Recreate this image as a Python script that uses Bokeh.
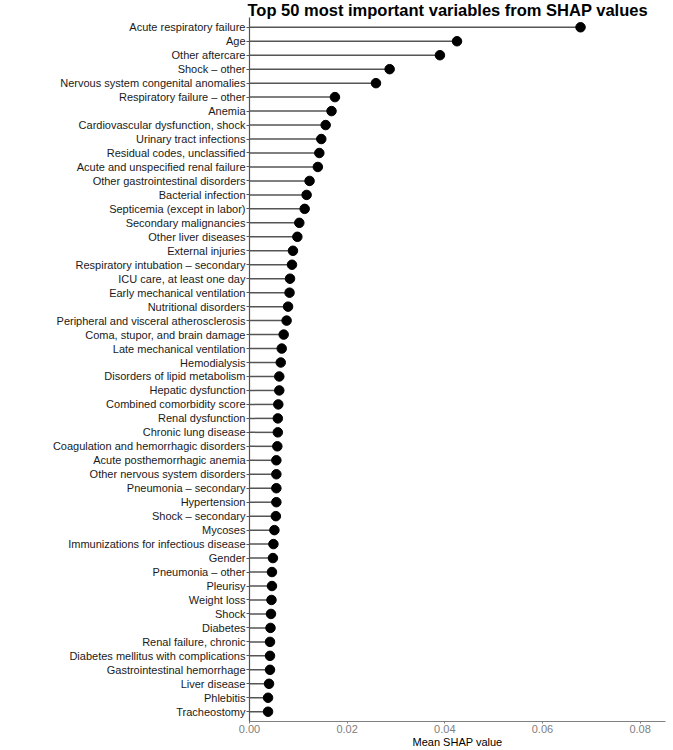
from bokeh.plotting import figure
from bokeh.models import Range1d, FactorRange, FixedTicker, NumeralTickFormatter, ColumnDataSource
from bokeh.embed import file_html
from bokeh.resources import INLINE

variables = [
    "Acute respiratory failure", "Age", "Other aftercare", "Shock \u2013 other",
    "Nervous system congenital anomalies", "Respiratory failure \u2013 other", "Anemia",
    "Cardiovascular dysfunction, shock", "Urinary tract infections",
    "Residual codes, unclassified", "Acute and unspecified renal failure",
    "Other gastrointestinal disorders", "Bacterial infection", "Septicemia (except in labor)",
    "Secondary malignancies", "Other liver diseases", "External injuries",
    "Respiratory intubation \u2013 secondary", "ICU care, at least one day",
    "Early mechanical ventilation", "Nutritional disorders",
    "Peripheral and visceral atherosclerosis", "Coma, stupor, and brain damage",
    "Late mechanical ventilation", "Hemodialysis", "Disorders of lipid metabolism",
    "Hepatic dysfunction", "Combined comorbidity score", "Renal dysfunction",
    "Chronic lung disease", "Coagulation and hemorrhagic disorders",
    "Acute posthemorrhagic anemia", "Other nervous system disorders",
    "Pneumonia \u2013 secondary", "Hypertension", "Shock \u2013 secondary", "Mycoses",
    "Immunizations for infectious disease", "Gender", "Pneumonia \u2013 other", "Pleurisy",
    "Weight loss", "Shock", "Diabetes", "Renal failure, chronic",
    "Diabetes mellitus with complications", "Gastrointestinal hemorrhage",
    "Liver disease", "Phlebitis", "Tracheostomy",
]

shap_values = [
    0.0678, 0.0425, 0.0390, 0.0287, 0.0259, 0.0175, 0.0168, 0.0156, 0.0147, 0.0143,
    0.0140, 0.0123, 0.0117, 0.0113, 0.0102, 0.0098, 0.0089, 0.0087, 0.0083, 0.0082,
    0.0079, 0.0076, 0.0070, 0.0066, 0.0064, 0.0061, 0.0061, 0.0059, 0.0058, 0.0058,
    0.0057, 0.0055, 0.0055, 0.0055, 0.0055, 0.0054, 0.0051, 0.0049, 0.0048, 0.0046,
    0.0046, 0.0045, 0.0044, 0.0043, 0.0042, 0.0042, 0.0042, 0.0040, 0.0038, 0.0038,
]

x_ticks = [0.0, 0.02, 0.04, 0.06, 0.08]

FONT = "Liberation Sans"

source = ColumnDataSource(dict(var=variables, val=shap_values, zero=[0.0] * len(variables)))

p = figure(
    width=673, height=750,
    y_range=FactorRange(factors=list(reversed(variables)), range_padding=0.2,
                        range_padding_units="absolute"),
    x_range=Range1d(0, 0.0852),
    output_backend="svg", toolbar_location=None,
    min_border_left=249, min_border_right=8, min_border_top=0, min_border_bottom=0,
    title="Top 50 most important variables from SHAP values",
)

p.title.text_font = FONT
p.title.text_font_size = "16.5px"
p.title.text_font_style = "bold"
p.title.text_color = "#000000"
p.title.align = "left"
p.title.standoff = -3
p.title.offset = -2

p.segment(x0="zero", y0="var", x1="val", y1="var", source=source,
          line_color="#555555", line_width=1.5)
p.scatter(x="val", y="var", source=source, size=9.5, fill_color="#000000",
          line_color="#000000")

p.outline_line_color = None
p.xgrid.grid_line_color = None
p.ygrid.grid_line_color = None
p.background_fill_color = "white"

xa = p.xaxis[0]
xa.ticker = FixedTicker(ticks=x_ticks)
xa.formatter = NumeralTickFormatter(format="0.00")
xa.axis_label = "Mean SHAP value"
xa.axis_label_text_font = FONT
xa.axis_label_text_font_size = "11px"
xa.axis_label_text_font_style = "normal"
xa.axis_label_text_color = "#000000"
xa.axis_label_standoff = 0
xa.major_label_text_font = FONT
xa.major_label_text_font_size = "11px"
xa.major_label_text_color = "#808080"
xa.major_label_standoff = 1
xa.axis_line_color = "#808080"
xa.axis_line_width = 1.2
xa.major_tick_line_color = "#808080"
xa.major_tick_out = 2
xa.major_tick_in = 0
xa.minor_tick_line_color = None

ya = p.yaxis[0]
ya.major_label_text_font = FONT
ya.major_label_text_font_size = "11px"
ya.major_label_text_color = "#1a1a1a"
ya.major_label_standoff = 1
ya.axis_line_color = "#555555"
ya.axis_line_width = 1.2
ya.major_tick_line_color = "#555555"
ya.major_tick_out = 3
ya.major_tick_in = 0
ya.minor_tick_line_color = None

open("out.html", "w").write(file_html(p, INLINE))
